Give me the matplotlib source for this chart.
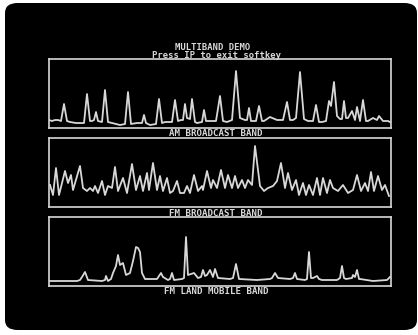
import matplotlib
matplotlib.use("Agg")
import matplotlib.pyplot as plt
from matplotlib.patches import FancyBboxPatch

# trace vertices: (channel, level), feet of peaks included
am_x = [0, 3, 6, 9, 12, 15, 18, 21, 27, 35, 38, 41, 43, 45, 47, 49, 53, 56, 59, 63,
        71, 76, 79, 82, 88, 93, 95, 97, 101, 107, 110, 113, 116, 123, 126, 129, 132, 134,
        136, 138, 141, 143, 146, 148, 153, 155, 157, 159, 167, 171, 174, 178, 183, 187,
        191, 196, 198, 200, 202, 204, 207, 210, 213, 215, 221, 228, 234, 238, 241, 244,
        247, 251, 255, 259, 264, 267, 270, 273, 277, 280, 282, 285, 288, 291, 293, 295,
        297, 299, 303, 306, 308, 311, 314, 317, 319, 324, 328, 330, 334, 339, 341]
am_y = [8, 7, 8, 8, 7, 24, 7, 6, 5, 5, 34, 7, 7, 8, 16, 7, 6, 38, 6, 5,
        3, 4, 36, 4, 5, 5, 13, 5, 3, 4, 29, 5, 6, 6, 28, 7, 8, 8,
        24, 10, 9, 29, 6, 5, 6, 18, 7, 7, 7, 32, 7, 6, 8, 57,
        10, 8, 8, 20, 7, 7, 7, 22, 7, 7, 11, 8, 8, 26, 8, 8,
        10, 56, 9, 7, 7, 23, 6, 6, 7, 27, 22, 46, 12, 9, 9, 27,
        10, 10, 17, 8, 21, 7, 28, 7, 7, 10, 8, 12, 7, 7, 6]

fm_x = [1, 4, 7, 10, 16, 19, 22, 24, 31, 34, 38, 41, 44, 46, 49, 53, 56, 59, 63, 66,
        69, 74, 78, 83, 87, 91, 94, 98, 100, 104, 108, 111, 114, 118, 121, 124, 128, 131,
        135, 138, 141, 145, 149, 153, 154, 158, 162, 164, 168, 172, 176, 179, 183, 186,
        189, 193, 196, 199, 203, 206, 211, 215, 219, 224, 228, 232, 236, 239, 243, 247,
        250, 254, 257, 260, 264, 268, 271, 274, 278, 281, 284, 289, 294, 299, 304, 308,
        312, 316, 319, 322, 325, 329, 333, 336, 340]
fm_y = [22, 12, 39, 12, 36, 24, 32, 17, 41, 19, 16, 19, 16, 21, 14, 26, 12, 21, 19, 40,
        16, 29, 14, 43, 17, 31, 16, 34, 17, 44, 17, 31, 16, 29, 14, 16, 26, 14,
        14, 21, 14, 32, 16, 21, 17, 36, 19, 27, 19, 37, 19, 32, 19, 31,
        19, 27, 19, 27, 22, 61, 21, 16, 19, 21, 26, 44, 19, 34, 17, 27,
        12, 24, 12, 22, 12, 29, 12, 29, 14, 27, 19, 16, 22, 14, 17, 32,
        16, 24, 16, 35, 16, 31, 17, 22, 11]

lm_x = [1, 28, 31, 33, 36, 39, 53, 56, 57, 59, 62, 64, 67, 69, 71, 74, 77, 81, 84, 87,
        89, 91, 93, 96, 108, 112, 114, 119, 121, 123, 125, 133, 135, 137, 139, 145, 149,
        152, 154, 156, 158, 161, 164, 166, 169, 181, 184, 187, 190, 208, 221, 223, 226,
        229, 241, 244, 246, 248, 256, 258, 260, 262, 264, 268, 270, 273, 288, 291, 293,
        295, 297, 303, 304, 306, 308, 310, 311, 324, 338, 341]
lm_y = [5, 5, 6, 9, 14, 6, 5, 6, 10, 5, 7, 13, 20, 31, 21, 23, 11, 13, 25, 39,
        38, 34, 13, 7, 7, 13, 9, 6, 7, 13, 6, 7, 8, 49, 11, 13, 8,
        9, 16, 10, 11, 16, 9, 17, 8, 7, 8, 22, 7, 6, 7, 8, 13,
        8, 7, 8, 13, 7, 6, 7, 34, 8, 8, 10, 7, 6, 6, 8, 20,
        8, 7, 8, 11, 9, 16, 7, 7, 5, 6, 9]

band_names = ["AM BROADCAST BAND", "FM BROADCAST BAND", "FM LAND MOBILE BAND"]
title_lines = ["MULTIBAND DEMO", "Press IP to exit softkey"]

W, H = 418, 335
fig = plt.figure(figsize=(W / 100, H / 100), dpi=100)
fig.patch.set_facecolor("white")

# the CRT screen, kept behind everything else
screen = FancyBboxPatch((5 / W, 5 / H), 412 / W, 327 / H,
                        boxstyle="round,pad=0,rounding_size=0.03",
                        transform=fig.transFigure, facecolor="black",
                        edgecolor="none", zorder=-10)
fig.patches.append(screen)

phosphor = "#d8d8d8"
mono = "DejaVu Sans Mono"

panels = [(59, 128, am_x, am_y), (138, 207, fm_x, fm_y), (217, 286, lm_x, lm_y)]
for (top, bottom, xs, ys), name in zip(panels, band_names):
    ax = fig.add_axes([49 / W, 1 - bottom / H, 342 / W, (bottom - top) / H])
    ax.set_facecolor("none")
    ax.plot(xs, ys, color=phosphor, lw=1.3, solid_joinstyle="round")
    ax.set_xlim(0, 342)
    ax.set_ylim(0, 69)
    ax.set_xticks([])
    ax.set_yticks([])
    for s in ax.spines.values():
        s.set_color(phosphor)
        s.set_linewidth(1.2)
    fig.text(216 / W, 1 - (bottom + 6) / H, name, ha="center", va="center",
             color=phosphor, fontsize=6.6, family=mono, fontweight="bold")

fig.text(213 / W, 1 - 47 / H, title_lines[0], ha="center", va="center",
         color=phosphor, fontsize=6.4, family=mono, fontweight="bold")
fig.text(216 / W, 1 - 55.5 / H, title_lines[1], ha="center", va="center",
         color=phosphor, fontsize=6.4, family=mono, fontweight="bold")

fig.savefig("out.png", dpi=100, facecolor="white")
